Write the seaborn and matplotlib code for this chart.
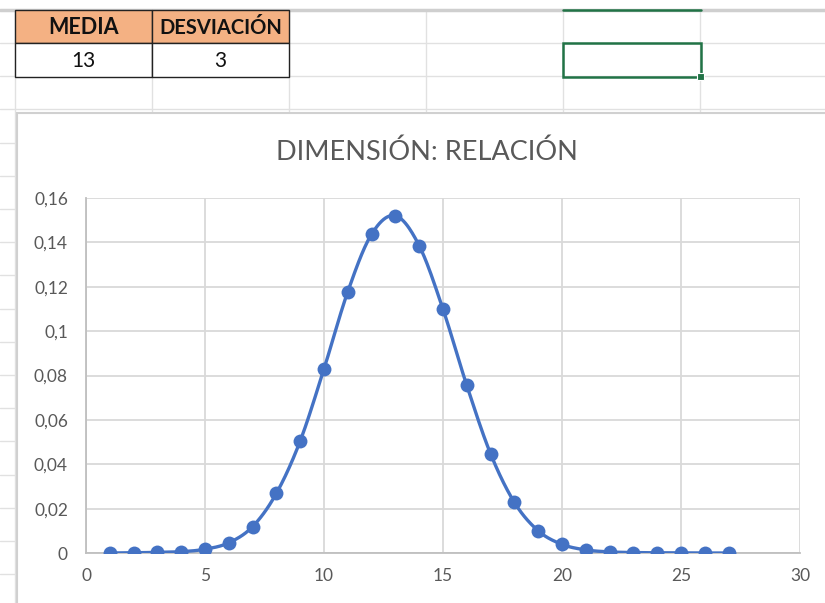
import numpy as np
import pandas as pd
import matplotlib
matplotlib.use("Agg")
import matplotlib.pyplot as plt
import seaborn as sns
from matplotlib.patches import Rectangle

# ---- data ----
x_vals = list(range(1, 28))
y_vals = [0.0000, 0.0001, 0.0003, 0.0006, 0.0017, 0.0046, 0.0119, 0.0269, 0.0505,
          0.0830, 0.1178, 0.1437, 0.1520, 0.1385, 0.1099, 0.0755, 0.0447, 0.0228,
          0.0100, 0.0039, 0.0014, 0.0005, 0.0002, 0.0001, 0.0000, 0.0000, 0.0000]
table_headers = ["MEDIA", "DESVIACIÓN"]
table_values = ["13", "3"]
title = "DIMENSIÓN: RELACIÓN"
x_ticks = [0, 5, 10, 15, 20, 25, 30]
y_ticks = [0, 0.02, 0.04, 0.06, 0.08, 0.1, 0.12, 0.14, 0.16]

df = pd.DataFrame({"x": x_vals, "y": y_vals})

sns.set_theme(style="whitegrid")
plt.rcParams["font.family"] = ["Lato", "DejaVu Sans"]

W, H = 825, 603
fig = plt.figure(figsize=(W / 100, H / 100), dpi=100)

# ---- spreadsheet background (pixel coordinates) ----
bg = fig.add_axes([0, 0, 1, 1])
bg.set_xlim(0, W)
bg.set_ylim(H, 0)
bg.axis("off")
grid_c = "#E1E1E1"
col_x = [15, 152, 289, 426, 563, 700]
for cx in col_x:
    bg.plot([cx, cx], [10, H], color=grid_c, lw=1, zorder=1)
for ry in np.arange(43, H, 33.2):
    bg.plot([0, W], [ry, ry], color=grid_c, lw=1, zorder=1)
bg.plot([0, W], [10, 10], color="#CFCFCF", lw=2.5, zorder=2)

# table
for i, (hdr, val) in enumerate(zip(table_headers, table_values)):
    x0 = col_x[i]
    bg.add_patch(Rectangle((x0, 10), 137, 33, facecolor="#F4B183",
                           edgecolor="#222222", lw=1, zorder=3))
    bg.add_patch(Rectangle((x0, 43), 137, 34, facecolor="white",
                           edgecolor="#222222", lw=1, zorder=3))
    hs = 15.5 if len(hdr) < 8 else 14.5
    bg.text(x0 + 68.5, 28, hdr, ha="center", va="center", fontsize=hs,
            fontweight="bold", color="#111111", zorder=4)
    bg.text(x0 + 68.5, 61, val, ha="center", va="center", fontsize=15,
            color="#111111", zorder=4)

# selected cell
sel = "#217346"
bg.plot([563, 701], [10, 10], color=sel, lw=1.8, zorder=5)
bg.add_patch(Rectangle((563, 43), 138, 34, facecolor="none", edgecolor=sel,
                       lw=1.8, zorder=5))
bg.add_patch(Rectangle((697, 73), 7, 7, facecolor=sel, edgecolor="white",
                       lw=0.8, zorder=6))

# chart area
bg.add_patch(Rectangle((17, 113), W, H, facecolor="white", edgecolor="#D0D0D0",
                       lw=1.5, zorder=7))
bg.text(427, 152, title, ha="center", va="center", fontsize=19.5,
        color="#595959", zorder=8)

# ---- chart ----
ax = fig.add_axes([86 / W, (H - 553) / H, (800 - 86) / W, (553 - 198) / H])
ax.set_facecolor("none")


def smooth_curve(xs, ys, n=25):
    pts = np.column_stack([xs, ys]).astype(float)
    P = np.vstack([pts[0], pts, pts[-1]])
    t = np.linspace(0, 1, n)[:, None]
    segs = []
    for i in range(1, len(P) - 2):
        p0, p1, p2, p3 = P[i - 1], P[i], P[i + 1], P[i + 2]
        c1 = p1 + (p2 - p0) / 6
        c2 = p2 - (p3 - p1) / 6
        segs.append((1 - t) ** 3 * p1 + 3 * (1 - t) ** 2 * t * c1
                    + 3 * (1 - t) * t ** 2 * c2 + t ** 3 * p2)
    return np.vstack(segs)


curve = smooth_curve(df["x"], df["y"])
curve_df = pd.DataFrame(curve, columns=["x", "y"])
blue = "#4472C4"
sns.lineplot(data=curve_df, x="x", y="y", ax=ax, color=blue, lw=2.4,
             sort=False, estimator=None, zorder=3)
sns.scatterplot(data=df, x="x", y="y", ax=ax, color=blue, s=100,
                edgecolor=blue, linewidth=0, zorder=4)

ax.set_xlim(0, 30)
ax.set_ylim(0, 0.16)
ax.set_xticks(x_ticks)
ax.set_yticks(y_ticks)
ax.set_yticklabels([f"{v:g}".replace(".", ",") for v in y_ticks])
ax.set_xticklabels([str(v) for v in x_ticks])
ax.set_xlabel("")
ax.set_ylabel("")
ax.grid(True, color="#D9D9D9", lw=1.3)
ax.tick_params(length=0, labelsize=12.5, labelcolor="#595959")
ax.tick_params(axis="y", pad=13)
ax.tick_params(axis="x", pad=11)
for side in ["top", "right"]:
    ax.spines[side].set_visible(False)
for side in ["left", "bottom"]:
    ax.spines[side].set_color("#BFBFBF")
    ax.spines[side].set_linewidth(1.3)

fig.savefig("out.png", dpi=100)
